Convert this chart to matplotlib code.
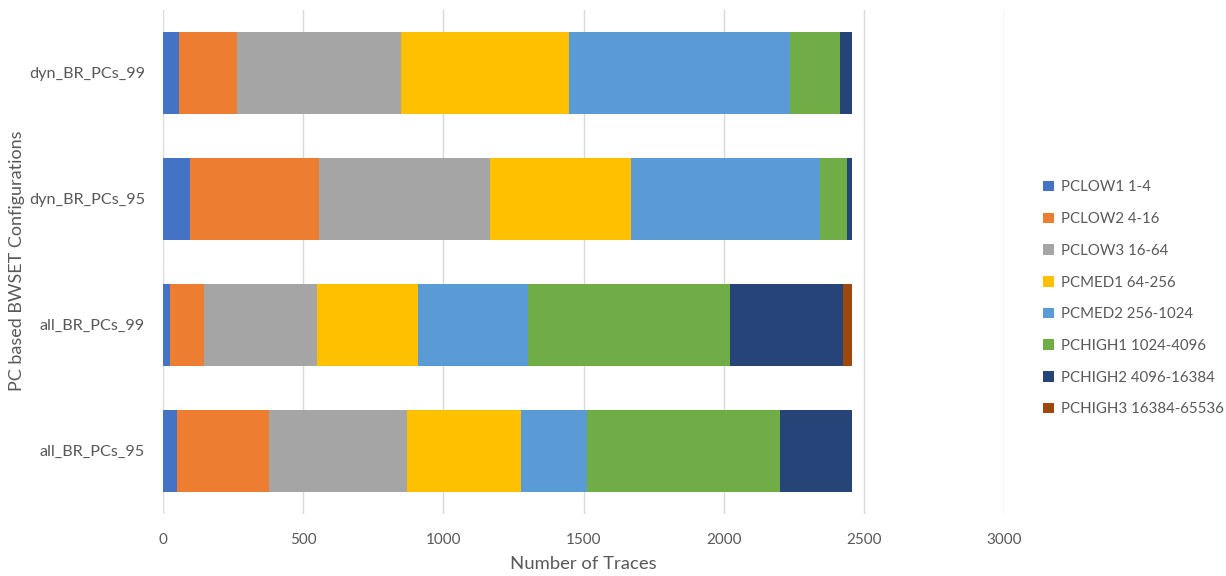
import matplotlib.pyplot as plt
import numpy as np

# trace counts per PC bucket, one list per configuration
configs = ['all_BR_PCs_95', 'all_BR_PCs_99', 'dyn_BR_PCs_95', 'dyn_BR_PCs_99']
buckets = ['PCLOW1 1-4', 'PCLOW2 4-16', 'PCLOW3 16-64', 'PCMED1 64-256',
           'PCMED2 256-1024', 'PCHIGH1 1024-4096', 'PCHIGH2 4096-16384',
           'PCHIGH3 16384-65536']
all_95 = [49, 328, 494, 405, 237, 689, 254, 0]
all_99 = [26, 120, 404, 358, 392, 724, 400, 32]
dyn_95 = [95, 463, 607, 504, 673, 97, 17, 0]
dyn_99 = [56, 209, 584, 598, 788, 181, 40, 0]
colors = ['#4472C4', '#ED7D31', '#A5A5A5', '#FFC000',
          '#5B9BD5', '#70AD47', '#264478', '#9E480E']

plt.rcParams['font.family'] = ['Lato', 'DejaVu Sans']
txt = '#595959'

counts = np.array([all_95, all_99, dyn_95, dyn_99]).T
y = np.arange(len(configs))

fig = plt.figure(figsize=(12.26, 5.76), dpi=100)
ax = fig.add_axes([0.133, 0.108, 0.686, 0.875])

left = np.zeros(len(configs))
for i in range(len(buckets)):
    ax.barh(y, counts[i], left=left, height=0.65, color=colors[i],
            label=buckets[i], zorder=3)
    left += counts[i]

ax.set_xlim(0, 3000)
ax.set_ylim(-0.5, 3.5)
ax.set_xticks(np.arange(0, 3001, 500))
ax.set_yticks(y)
ax.set_yticklabels(configs)
ax.grid(axis='x', color='#D9D9D9', linewidth=1, zorder=0)
for s in ax.spines.values():
    s.set_visible(False)
ax.tick_params(length=0, colors=txt)
ax.tick_params(axis='x', pad=14, labelsize=11)
ax.tick_params(axis='y', pad=13, labelsize=11.7)

ax.set_xlabel('Number of Traces', color=txt, fontsize=13.3, labelpad=6)
# axis title placed by hand so it sits close to the figure edge
fig.text(17 / 1226, 1 - 261 / 576, 'PC based BWSET Configurations',
         rotation=90, ha='center', va='center', color=txt, fontsize=13)

leg = fig.legend(loc='center left', bbox_to_anchor=(0.840, 0.482),
                 frameon=False, fontsize=10.8, labelspacing=1.18,
                 handlelength=0.7, handleheight=0.7, handletextpad=0.5)
for t in leg.get_texts():
    t.set_color(txt)

fig.savefig('out.png', dpi=100)
